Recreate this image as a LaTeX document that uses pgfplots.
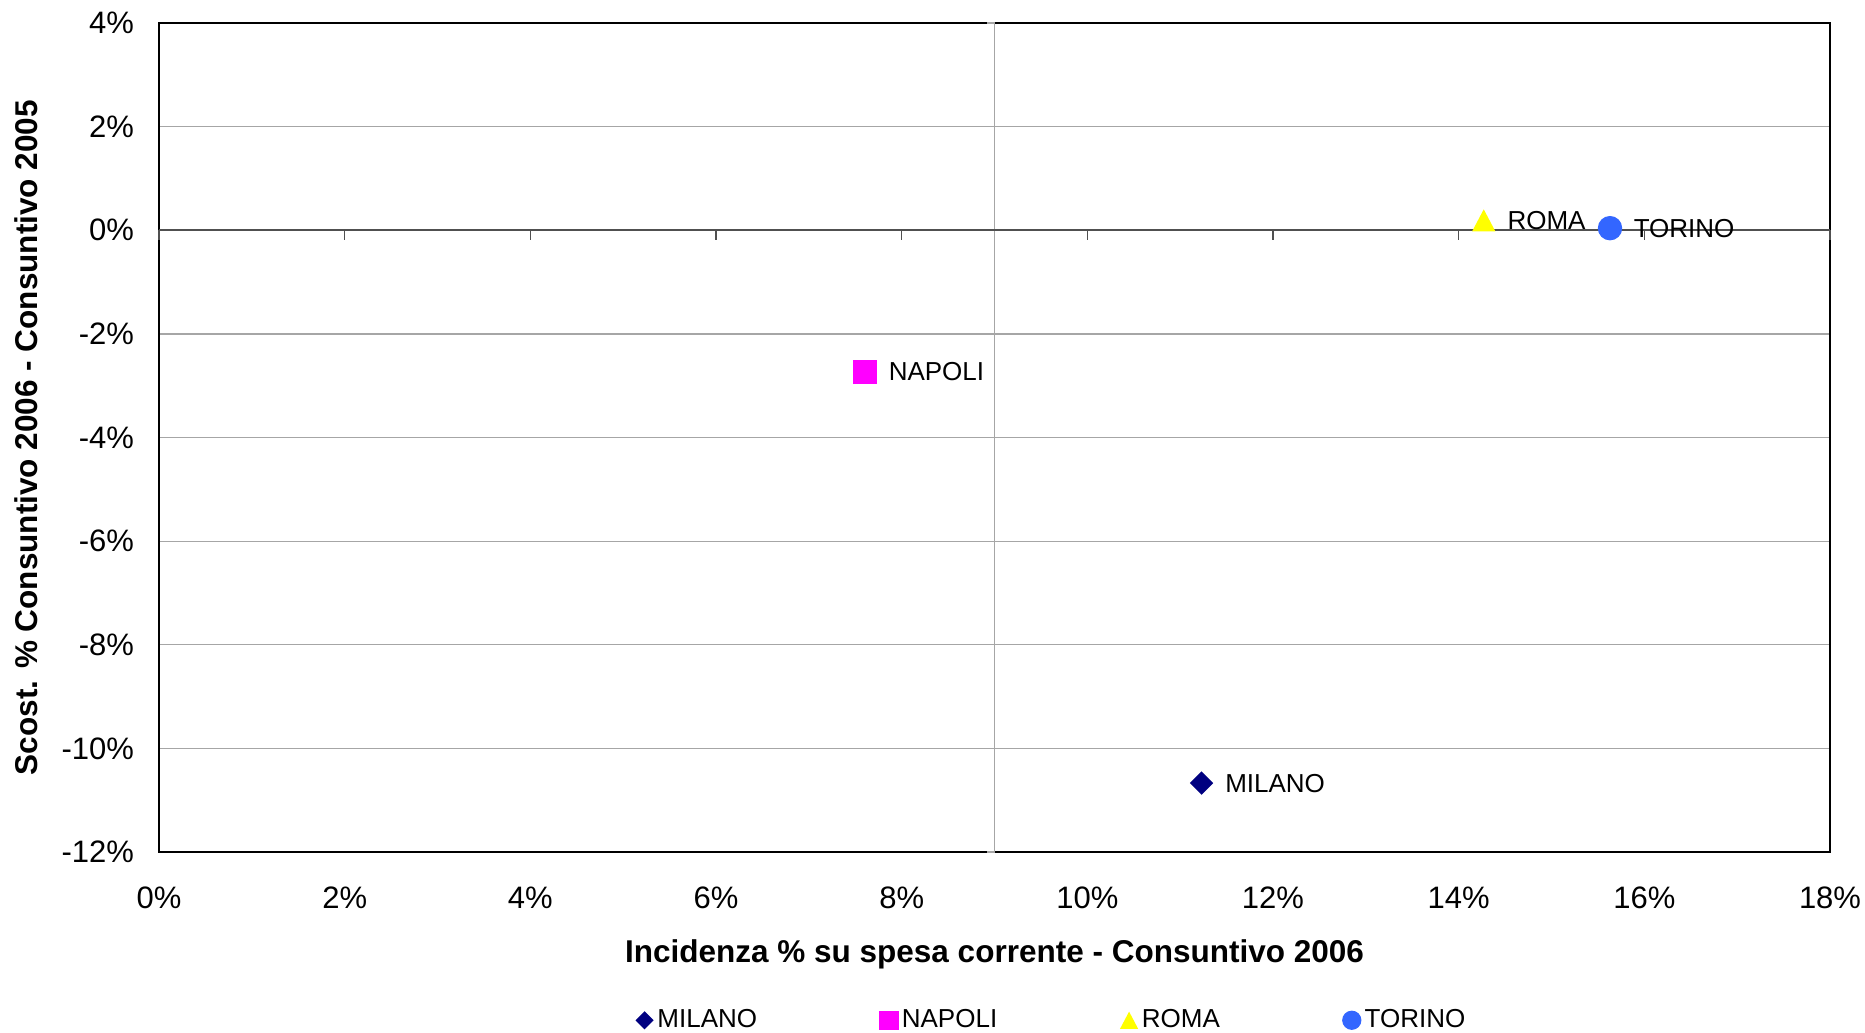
\documentclass[border=0pt]{standalone}
\usepackage{pgfplots}
\pgfplotsset{compat=1.18}
\usepackage{fontspec}
\setmainfont{Liberation Sans}

\definecolor{milano}{HTML}{000080}
\definecolor{napoli}{HTML}{FF00FF}
\definecolor{roma}{HTML}{FFFF00}
\definecolor{torino}{HTML}{3366FF}
\definecolor{gridgray}{HTML}{A6A6A6}
\definecolor{zerogray}{HTML}{505050}

% marks shaped like the spreadsheet ones
\pgfdeclareplotmark{rdiamond*}{%
  \pgfpathmoveto{\pgfqpoint{0pt}{\pgfplotmarksize}}%
  \pgfpathlineto{\pgfqpoint{\pgfplotmarksize}{0pt}}%
  \pgfpathlineto{\pgfqpoint{0pt}{-\pgfplotmarksize}}%
  \pgfpathlineto{\pgfqpoint{-\pgfplotmarksize}{0pt}}%
  \pgfpathclose\pgfusepathqfill}
\pgfdeclareplotmark{btriangle*}{%
  \pgfpathmoveto{\pgfqpoint{0pt}{0.95\pgfplotmarksize}}%
  \pgfpathlineto{\pgfqpoint{\pgfplotmarksize}{-0.95\pgfplotmarksize}}%
  \pgfpathlineto{\pgfqpoint{-\pgfplotmarksize}{-0.95\pgfplotmarksize}}%
  \pgfpathclose\pgfusepathqfill}
% small tick marks on the crossing axes
\pgfdeclareplotmark{dtick}{%
  \pgfpathmoveto{\pgfqpoint{0pt}{0pt}}%
  \pgfpathlineto{\pgfqpoint{0pt}{-\pgfplotmarksize}}%
  \pgfusepathqstroke}
\pgfdeclareplotmark{ltick}{%
  \pgfpathmoveto{\pgfqpoint{0pt}{0pt}}%
  \pgfpathlineto{\pgfqpoint{-\pgfplotmarksize}{0pt}}%
  \pgfusepathqstroke}

\begin{document}
\begin{tikzpicture}
\begin{axis}[
    name=ax,
    scale only axis,
    width=668.4pt, height=331.6pt,
    xmin=0, xmax=18, ymin=-12, ymax=4,
    xtick={0,2,...,18}, ytick={-12,-10,...,4},
    tick style={draw=none},
    ymajorgrids=true,
    grid style={gridgray, line width=0.5pt},
    axis line style={black, line width=0.6pt},
    xticklabel={\pgfmathprintnumber[assume math mode=true]{\tick}\%},
    yticklabel={\pgfmathprintnumber[assume math mode=true]{\tick}\%},
    tick label style={font=\fontsize{12.4}{14}\selectfont, inner sep=0pt},
    xticklabel style={anchor=center, yshift=-18.4pt},
    yticklabel style={anchor=east, xshift=-9.8pt},
    xlabel={Incidenza \% su spesa corrente - Consuntivo 2006},
    ylabel={Scost. \% Consuntivo 2006 - Consuntivo 2005},
    every axis x label/.style={at={(axis description cs:0.5,0)}, anchor=center,
      yshift=-41pt, font=\bfseries\fontsize{12.6}{14}\selectfont},
    every axis y label/.style={at={(axis description cs:0,0.5)}, anchor=center,
      rotate=90, yshift=53.2pt, font=\bfseries\fontsize{12.6}{14}\selectfont},
    nodes near coords style={font=\fontsize{10.4}{12}\selectfont, anchor=west, inner sep=0pt, xshift=9.3pt, text=black},
    legend columns=4,
    legend image code/.code={\draw[mark repeat=2,mark phase=2,#1] plot coordinates {(0pt,0pt)(4pt,0pt)(8pt,0pt)};},
    legend image post style={every mark/.append style={scale=0.78}},
    legend style={draw=none, fill=none, inner sep=0pt,
      font=\fontsize{10.4}{12}\selectfont,
      at={(axis description cs:0,0)}, anchor=west, xshift=190.4pt, yshift=-67.3pt,
      nodes={inner sep=1.5pt},
      /tikz/every even column/.append style={column sep=47.6pt}},
    clip=false,
]
% crossing axes at y = 0 and x = 9%
\addplot[forget plot, gridgray, line width=0.6pt] coordinates {(9,-12) (9,4)};
\addplot[forget plot, only marks, mark=ltick, mark size=3pt, gridgray, line width=0.5pt]
  coordinates {(9,-12) (9,-10) (9,-8) (9,-6) (9,-4) (9,-2) (9,2) (9,4)};
\addplot[forget plot, zerogray, line width=0.8pt] coordinates {(0,0) (18,0)};
\addplot[forget plot, only marks, mark=dtick, mark size=4pt, zerogray, line width=0.6pt]
  coordinates {(0,0) (2,0) (4,0) (6,0) (8,0) (10,0) (12,0) (14,0) (16,0) (18,0)};

\addplot[only marks, mark=rdiamond*, mark size=4.67pt, color=milano,
  nodes near coords, point meta=explicit symbolic]
  coordinates {(11.23,-10.67) [MILANO]};
\addlegendentry{MILANO}
\addplot[only marks, mark=square*, mark size=4.67pt, color=napoli,
  nodes near coords, point meta=explicit symbolic]
  coordinates {(7.605,-2.73) [NAPOLI]};
\addlegendentry{NAPOLI}
\addplot[only marks, mark=btriangle*, mark size=4.67pt, color=roma,
  nodes near coords, point meta=explicit symbolic]
  coordinates {(14.27,0.19) [ROMA]};
\addlegendentry{ROMA}
\addplot[only marks, mark=*, mark size=4.67pt, color=torino,
  nodes near coords, point meta=explicit symbolic]
  coordinates {(15.63,0.04) [TORINO]};
\addlegendentry{TORINO}
\end{axis}
\pgfresetboundingbox
\useasboundingbox (ax.south west) ++(-63.6pt,-72pt) rectangle ([shift={(682.4pt,340.8pt)}]ax.south west);
\end{tikzpicture}
\end{document}
